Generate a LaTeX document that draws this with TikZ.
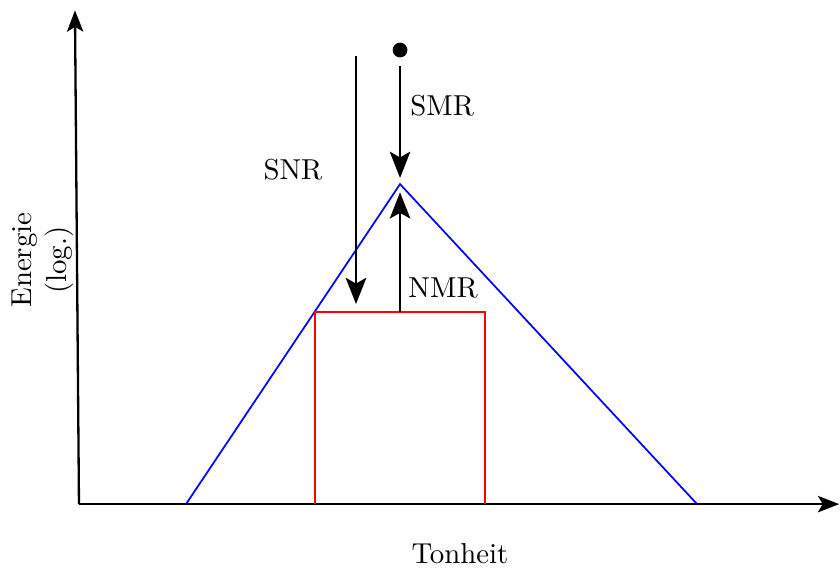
\documentclass[tikz,border=0pt]{standalone}
\usepackage{tikz}
\usetikzlibrary{arrows.meta,positioning,calc}
\usepackage{xcolor}
\tikzset{
  axis/.style={thick,-{Stealth[length=2.6mm,width=2mm,inset=0.6mm]}},
  ar/.style={thick,-{Stealth[length=3.2mm,width=2.5mm,inset=0.7mm]}},
  masker/.style={blue,semithick},
  signal/.style={red,semithick},
  lbl/.style={inner sep=1pt},
  src/.style={circle,fill=black,inner sep=0pt,minimum size=1.8mm},
}

\begin{document}
\begin{tikzpicture}
  \useasboundingbox (-0.963,-0.780) rectangle (9.280,6.147);
  % axes
  \coordinate (O) at (0,0);
  \coordinate (ytop) at (-0.049,6.02);
  \coordinate (xend) at (9.27,0);
  \draw[axis] (O) -- (ytop);
  \draw[axis] (O) -- (xend);
  \node[lbl] (xlab) at (4.646,-0.60) {Tonheit};
  \node[lbl,rotate=90,align=center] (ylab) at (-0.44,2.976) {Energie\\(log.)};
  % masker
  \coordinate (bl) at (1.305,0);
  \coordinate (peak) at (3.915,3.902);
  \coordinate (br) at (7.537,0);
  \draw[masker] (bl) -- (peak) -- (br);
  % test signal
  \coordinate (rl) at (2.878,0);
  \coordinate (rtl) at (2.878,2.341);
  \coordinate (rtr) at (4.951,2.341);
  \coordinate (rr) at (4.951,0);
  \coordinate (rtm) at (3.915,2.341);
  \draw[signal] (rl) -- (rtl) -- (rtr) -- (rr);
  % ratios
  \node[src] (top) at (3.915,5.537) {};
  \coordinate (snrtop) at (3.378,5.463);
  \coordinate (snrbot) at (3.378,2.439);
  \draw[ar,shorten <=1mm,shorten >=0.75mm] (top) -- (peak);
  \draw[ar,shorten >=1mm] (rtm) -- (peak);
  \draw[ar] (snrtop) -- (snrbot);
  \node[lbl] (smr) at (4.43,4.854) {SMR};
  \node[lbl] (snr) at (2.61,4.073) {SNR};
  \node[lbl] (nmr) at (4.44,2.634) {NMR};
\end{tikzpicture}
\end{document}
